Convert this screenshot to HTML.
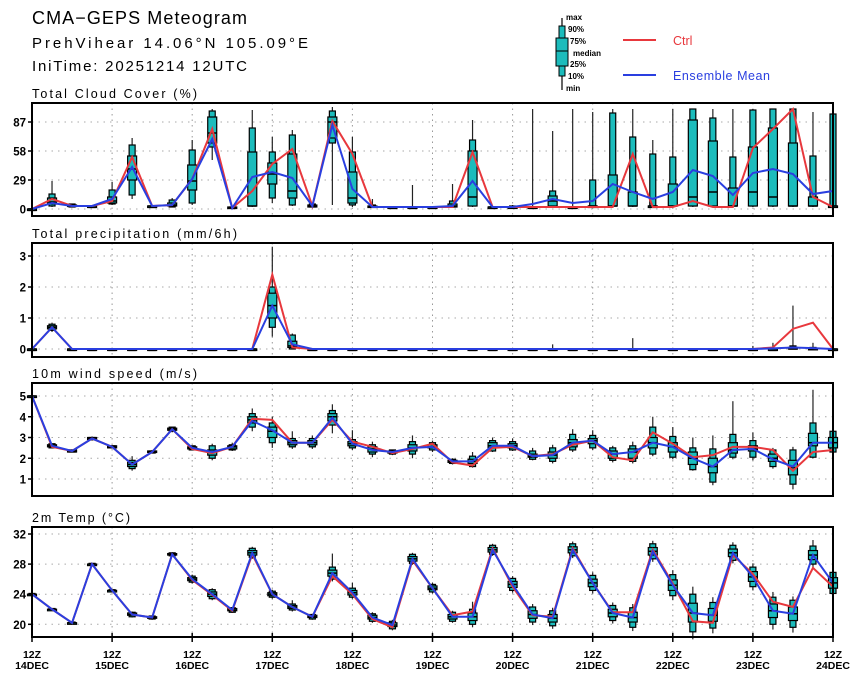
<!DOCTYPE html>
<html><head><meta charset="utf-8"><style>
body{margin:0;background:#fff;width:860px;height:680px;overflow:hidden}
svg{display:block}
text{font-family:"Liberation Sans",sans-serif}
</style></head><body>
<svg id="chart" width="860" height="680" xmlns="http://www.w3.org/2000/svg">
<text x="32" y="24" font-size="18" textLength="215" lengthAdjust="spacing">CMA−GEPS Meteogram</text>
<text x="32" y="48" font-size="15" textLength="276" lengthAdjust="spacing">PrehVihear 14.06°N 105.09°E</text>
<text x="32" y="71" font-size="15" textLength="215" lengthAdjust="spacing">IniTime: 20251214 12UTC</text>
<g>
<line x1="562" y1="18" x2="562" y2="90" stroke="#000" stroke-width="1.2"/>
<rect x="559" y="26" width="6" height="50" fill="#1cbcbc" stroke="#000"/>
<rect x="556" y="38" width="12" height="28" fill="#1cbcbc" stroke="#000"/>
<line x1="556" y1="51" x2="568" y2="51" stroke="#000"/>
<text x="566" y="20" font-size="8" font-weight="bold">max</text>
<text x="568" y="32" font-size="8" font-weight="bold">90%</text>
<text x="570" y="44" font-size="8" font-weight="bold">75%</text>
<text x="573" y="56" font-size="8" font-weight="bold">median</text>
<text x="570" y="67" font-size="8" font-weight="bold">25%</text>
<text x="568" y="79" font-size="8" font-weight="bold">10%</text>
<text x="566" y="91" font-size="8" font-weight="bold">min</text>
</g>
<g>
<line x1="623" y1="40" x2="656" y2="40" stroke="#e8383d" stroke-width="2"/>
<text x="673" y="45" font-size="12.5" fill="#e8383d">Ctrl</text></g>
<g>
<line x1="623" y1="75" x2="656" y2="75" stroke="#2a3fe0" stroke-width="2"/>
<text x="673" y="80" font-size="12.5" fill="#2a3fe0" textLength="97" lengthAdjust="spacing">Ensemble Mean</text></g>
</svg>
<script>
const days=["14DEC","15DEC","16DEC","17DEC","18DEC","19DEC","20DEC","21DEC","22DEC","23DEC","24DEC"];
// Cloud cover
const cloudCtrl=[0,10,3,3,8,52,3,4,30,80,1,18,45,60,3,88,55,2,2,2,2,2,57,2,2,2,2,2,2,2,55,2,2,8,2,2,61,80,100,12,2];
const cloudMean=[0,6,3,3,10,42,3,4,30,70,1,32,37,31,3,84,20,2,2,2,2,3,28,2,2,5,10,6,8,25,17,10,17,39,33,14,36,40,35,15,18];
const cloudMin=[0,2,2,2,4,10,2,2,4,49,1,2,6,3,2,4,2,2,2,1,1,1,2,2,1,1,1,1,1,2,2,2,2,2,2,2,2,2,2,2,2];
const cloudP10=[0,3,2,2,5,14,2,2,6,62,1,3,11,4,2,66,4,2,2,2,2,2,3,2,2,2,3,2,3,3,3,3,3,3,3,3,3,3,3,3,3];
const cloudP25=[0,5,3,3,6,29,3,3,19,66,1,3,25,11,2,71,6,2,2,2,2,2,3,2,2,2,3,2,3,3,3,3,3,3,3,3,3,3,3,3,3];
const cloudMed=[0,7,3,3,8,40,3,4,28,76,1,3,35,18,3,87,11,2,2,2,2,3,12,2,2,2,8,2,3,3,3,3,3,12,17,3,17,12,3,3,3];
const cloudP75=[0,11,4,3,12,53,3,6,44,92,2,57,46,55,4,92,37,3,2,2,2,5,58,2,2,2,13,2,3,34,17,3,25,89,68,21,62,81,66,12,3];
const cloudP90=[0,15,5,3,19,64,3,9,59,98,2,81,57,74,5,98,57,4,2,2,2,8,69,2,3,2,18,2,29,96,72,55,52,100,91,52,99,100,100,53,95];
const cloudMax=[0,28,5,3,27,71,3,11,69,100,2,99,72,79,5,102,72,10,2,24,2,25,89,3,4,100,78,100,97,100,100,69,100,100,100,100,100,100,100,97,95];
// Precipitation
const precCtrl=[0,0.7,0,0,0,0,0,0,0,0,0,0,2.4,0.05,0,0,0,0,0,0,0,0,0,0,0,0,0,0,0,0,0,0,0,0,0,0,0,0.05,0.65,0.85,0];
const precMean=[0,0.7,0,0,0,0,0,0,0,0,0,0,1.4,0.15,0,0,0,0,0,0,0,0,0,0,0,0,0,0,0,0,0,0,0,0,0,0,0,0.02,0.05,0.03,0];
const precMin=[0,0.55,0,0,0,0,0,0,0,0,0,0,0.4,0,0,0,0,0,0,0,0,0,0,0,0,0,0,0,0,0,0,0,0,0,0,0,0,0,0,0,0];
const precP10=[0,0.6,0,0,0,0,0,0,0,0,0,0,0.7,0,0,0,0,0,0,0,0,0,0,0,0,0,0,0,0,0,0,0,0,0,0,0,0,0,0,0,0];
const precP25=[0,0.65,0,0,0,0,0,0,0,0,0,0,1.0,0.05,0,0,0,0,0,0,0,0,0,0,0,0,0,0,0,0,0,0,0,0,0,0,0,0,0,0,0];
const precMed=[0,0.7,0,0,0,0,0,0,0,0,0,0,1.4,0.1,0,0,0,0,0,0,0,0,0,0,0,0,0,0,0,0,0,0,0,0,0,0,0,0,0,0,0];
const precP75=[0,0.75,0,0,0,0,0,0,0,0,0,0,1.8,0.25,0,0,0,0,0,0,0,0,0,0,0,0,0,0,0,0,0,0,0,0,0,0,0,0,0.05,0.02,0];
const precP90=[0,0.8,0,0,0,0,0,0,0,0,0,0,2.0,0.45,0,0,0,0,0,0,0,0,0,0,0,0,0,0,0,0,0,0,0,0,0,0,0,0,0.1,0.05,0];
const precMax=[0,0.85,0,0,0,0,0,0,0,0,0,0,3.3,0.5,0,0,0,0,0,0,0,0,0,0,0,0,0.15,0,0,0,0.35,0,0,0,0,0,0.1,0.2,1.4,0.2,0];
// Wind speed
const windCtrl=[5.0,2.55,2.35,2.95,2.55,1.7,2.3,3.4,2.45,2.25,2.55,3.9,3.85,2.75,2.75,3.85,2.8,2.55,2.25,2.45,2.7,1.8,1.65,2.5,2.55,2.1,2.2,2.65,2.85,2.05,1.9,3.25,2.7,2.05,2.15,2.55,2.55,2.4,1.4,2.3,2.4];
const windMean=[5.0,2.6,2.35,2.95,2.55,1.7,2.3,3.4,2.5,2.3,2.55,3.8,3.35,2.75,2.75,3.95,2.7,2.4,2.3,2.5,2.55,1.85,1.85,2.6,2.6,2.1,2.15,2.75,2.85,2.2,2.3,2.75,2.55,2.0,1.6,2.4,2.45,1.95,1.6,2.75,2.75];
const windMin=[5,2.5,2.3,2.85,2.5,1.4,2.25,3.25,2.4,1.9,2.35,3.3,2.5,2.45,2.45,3.2,2.4,2.05,2.15,2.0,2.3,1.7,1.55,2.3,2.35,1.9,1.75,2.3,2.4,1.8,1.75,2.1,1.95,1.4,0.7,1.95,1.9,1.5,0.5,2.0,2.2];
const windP10=[5,2.5,2.3,2.9,2.5,1.5,2.25,3.3,2.4,2.0,2.4,3.5,2.75,2.55,2.55,3.6,2.5,2.2,2.2,2.2,2.4,1.75,1.6,2.35,2.4,1.95,1.85,2.4,2.5,1.9,1.85,2.2,2.05,1.45,0.85,2.05,2.05,1.6,0.75,2.05,2.3];
const windP25=[5,2.55,2.3,2.9,2.5,1.6,2.3,3.35,2.45,2.15,2.45,3.7,3.0,2.65,2.65,3.8,2.6,2.3,2.25,2.35,2.5,1.8,1.75,2.5,2.5,2.05,2.0,2.55,2.7,2.0,2.0,2.5,2.3,1.7,1.3,2.25,2.35,1.85,1.2,2.6,2.5];
const windMed=[5,2.6,2.35,2.95,2.55,1.7,2.3,3.4,2.5,2.3,2.55,3.85,3.3,2.75,2.75,4.0,2.7,2.45,2.3,2.5,2.55,1.85,1.85,2.6,2.6,2.1,2.15,2.75,2.85,2.2,2.3,2.75,2.55,2.0,1.6,2.4,2.45,2.0,1.55,2.75,2.75];
const windP75=[5,2.65,2.4,3.0,2.6,1.8,2.35,3.45,2.55,2.4,2.6,4.0,3.5,2.85,2.85,4.15,2.8,2.55,2.35,2.65,2.65,1.9,1.95,2.75,2.7,2.2,2.3,2.9,2.95,2.35,2.45,3.0,2.75,2.3,2.0,2.75,2.6,2.2,1.9,3.2,3.0];
const windP90=[5,2.7,2.4,3.0,2.6,1.9,2.35,3.5,2.6,2.6,2.65,4.15,3.7,2.95,2.95,4.3,2.9,2.65,2.4,2.8,2.75,1.95,2.1,2.85,2.8,2.35,2.5,3.15,3.1,2.5,2.6,3.5,3.05,2.5,2.45,3.15,2.85,2.4,2.4,3.7,3.3];
const windMax=[5,2.7,2.4,3.05,2.6,2.1,2.4,3.5,2.6,2.7,2.75,4.4,4.0,3.3,3.1,4.6,3.35,2.8,2.4,3.1,2.85,2.0,2.3,3.0,2.95,2.5,2.65,3.4,3.35,2.6,2.8,4.0,3.5,3.0,3.1,4.75,3.25,2.5,2.55,5.3,3.35];
// 2m temperature
const tempCtrl=[24.0,22.0,20.2,28.0,24.5,21.3,20.9,29.3,25.9,23.9,21.8,29.3,24.0,22.3,21.0,26.4,24.0,20.7,19.6,28.5,24.8,21.2,21.7,30.1,25.0,21.2,21.0,30.1,25.5,21.6,21.6,29.9,25.4,20.4,20.2,29.2,26.7,23.0,22.3,27.5,25.0];
const tempMean=[24.0,22.0,20.2,28.0,24.5,21.3,20.9,29.3,26.0,24.0,21.9,29.5,24.0,22.3,21.0,26.8,24.2,20.9,19.9,28.7,24.8,21.0,21.0,29.9,25.3,21.3,20.8,29.9,25.5,21.5,20.9,29.7,25.2,21.5,21.2,29.5,26.3,21.8,21.4,29.2,25.5];
const tempMin=[23.9,21.9,20.1,27.9,24.4,20.9,20.6,29.0,25.4,23.2,21.5,28.7,23.4,21.7,20.6,25.7,23.4,20.2,19.2,27.9,24.1,20.2,19.6,29.1,24.2,19.9,19.4,28.8,24.1,20.1,19.1,28.3,23.2,18.0,18.8,28.1,24.5,19.3,18.9,27.5,23.5];
const tempP10=[23.9,21.9,20.1,27.9,24.4,21.0,20.7,29.1,25.6,23.4,21.6,28.9,23.6,21.9,20.7,26.0,23.6,20.4,19.4,28.1,24.3,20.4,20.0,29.3,24.5,20.3,19.8,29.1,24.5,20.5,19.6,28.7,23.8,19.0,19.5,28.5,25.0,20.0,19.6,28.0,24.1];
const tempP25=[24.0,22.0,20.2,28.0,24.5,21.2,20.8,29.2,25.8,23.7,21.8,29.2,23.8,22.1,20.9,26.4,23.9,20.7,19.7,28.4,24.6,20.7,20.5,29.6,24.9,20.8,20.3,29.5,25.0,21.0,20.3,29.2,24.5,20.3,20.4,29.0,25.7,20.9,20.5,28.6,24.8];
const tempMed=[24.0,22.0,20.2,28.0,24.5,21.3,20.9,29.3,26.0,24.0,21.9,29.5,24.0,22.3,21.0,26.8,24.2,20.9,19.9,28.7,24.8,21.0,21.0,29.9,25.3,21.3,20.8,29.9,25.5,21.5,20.9,29.7,25.2,21.5,21.2,29.5,26.3,21.8,21.4,29.2,25.5];
const tempP75=[24.0,22.0,20.2,28.0,24.5,21.5,21.0,29.4,26.2,24.3,22.1,29.8,24.2,22.5,21.2,27.2,24.5,21.2,20.2,29.0,25.1,21.3,21.5,30.2,25.7,21.8,21.3,30.3,26.0,22.0,21.6,30.2,25.9,22.8,22.1,30.0,27.0,22.7,22.3,29.8,26.2];
const tempP90=[24.1,22.1,20.3,28.1,24.6,21.6,21.1,29.5,26.4,24.6,22.2,30.1,24.4,22.7,21.3,27.6,24.8,21.4,20.4,29.3,25.3,21.6,22.0,30.5,26.1,22.3,21.8,30.7,26.5,22.5,22.2,30.7,26.6,24.0,22.9,30.5,27.6,23.6,23.2,30.4,26.9];
const tempMax=[24.1,22.1,20.3,28.1,24.6,21.7,21.2,29.6,26.6,24.8,22.3,30.3,24.6,23.2,21.4,29.4,25.5,21.6,20.6,29.5,25.5,21.8,23.0,30.7,26.4,22.7,22.2,31.0,26.9,22.9,22.7,31.1,27.2,25.0,23.6,30.9,28.1,24.3,23.7,31.2,27.5];
const cloudTicks=[0,29,58,87], precTicks=[0,1,2,3], windTicks=[1,2,3,4,5], tempTicks=[20,24,28,32];

const NS="http://www.w3.org/2000/svg";
const svg=document.getElementById('chart');
const X0=32,X1=833,N=41;
function xs(i){return X0+(X1-X0)*i/(N-1);}
function mk(tag,attrs,parent){const e=document.createElementNS(NS,tag);for(const k in attrs)e.setAttribute(k,attrs[k]);(parent||svg).appendChild(e);return e;}
function panel(name,title,tlen,top,bot,v0,y0,v1,y1,ticks,ctrl,mean,q){
  const ys=v=>y0+(v-v0)*(y1-y0)/(v1-v0);
  const g=mk('g',{});
  
  
  const t=mk('text',{x:32,y:top-5,'font-size':12.5,textLength:tlen,lengthAdjust:'spacing'},g);t.textContent=title;
  
  
  for(let d=0;d<=10;d++){const x=xs(d*4);if(d>0&&d<10)mk('line',{x1:x,y1:top,x2:x,y2:bot,stroke:'#999','stroke-dasharray':'1.5,4','stroke-width':1},g);}
  ticks.forEach(v=>{const y=ys(v);
    mk('line',{x1:X0,y1:y,x2:X1,y2:y,stroke:'#aaa','stroke-dasharray':'1.5,5','stroke-width':1},g);
    mk('line',{x1:X0-4,y1:y,x2:X0,y2:y,stroke:'#000','stroke-width':1.5},g);
    const tl=mk('text',{x:X0-6,y:y+4.5,'font-size':11.5,'font-weight':'bold','text-anchor':'end'},g);tl.textContent=v;
    
    
  });
  const [mn,p10,p25,md,p75,p90,mx]=q;
  for(let i=0;i<N;i++){
    const x=xs(i);
    const b=mk('g',{},g);
    
    
    mk('line',{x1:x,y1:ys(mn[i]),x2:x,y2:ys(mx[i]),stroke:'#222','stroke-width':1.2},b);
    const h1=Math.max(ys(p10[i])-ys(p90[i]),1.5);
    mk('rect',{x:x-3,y:ys(p90[i]),width:6,height:h1,fill:'#1cbcbc',stroke:'#000','stroke-width':1.2},b);
    const h2=Math.max(ys(p25[i])-ys(p75[i]),1.5);
    mk('rect',{x:x-4.5,y:ys(p75[i]),width:9,height:h2,fill:'#1cbcbc',stroke:'#000','stroke-width':1.2},b);
    mk('line',{x1:x-4.5,y1:ys(md[i]),x2:x+4.5,y2:ys(md[i]),stroke:'#000','stroke-width':1.5},b);
  }
  const pc=mk('polyline',{points:ctrl.map((v,i)=>xs(i)+','+ys(v)).join(' '),fill:'none',stroke:'#e8383d','stroke-width':2},g);
  
  
  const pm=mk('polyline',{points:mean.map((v,i)=>xs(i)+','+ys(v)).join(' '),fill:'none',stroke:'#2a3fe0','stroke-width':2},g);
  
  
  mk('rect',{x:X0,y:top,width:X1-X0,height:bot-top,fill:'none',stroke:'#000','stroke-width':2},g);
}
panel('cloud','Total Cloud Cover (%)',165,103,216,0,209,87,122,cloudTicks,cloudCtrl,cloudMean,[cloudMin,cloudP10,cloudP25,cloudMed,cloudP75,cloudP90,cloudMax]);
panel('precip','Total precipitation (mm/6h)',205,243,357,0,349,3,256,precTicks,precCtrl,precMean,[precMin,precP10,precP25,precMed,precP75,precP90,precMax]);
panel('wind','10m wind speed (m/s)',165,383,496,1,479,5,396,windTicks,windCtrl,windMean,[windMin,windP10,windP25,windMed,windP75,windP90,windMax]);
panel('temp','2m Temp (°C)',98,527,637,20,624.3,32,534,tempTicks,tempCtrl,tempMean,[tempMin,tempP10,tempP25,tempMed,tempP75,tempP90,tempMax]);
days.forEach((d,k)=>{const x=xs(k*4);
  mk('line',{x1:x,y1:633,x2:x,y2:642,stroke:'#000','stroke-width':1.5});
  const a=mk('text',{x:x,y:658,'font-size':10.5,'font-weight':'bold','text-anchor':'middle'});a.textContent='12Z';
  
  
  const b=mk('text',{x:x,y:669,'font-size':10.5,'font-weight':'bold','text-anchor':'middle'});b.textContent=d;
  
  
});
</script>
</body></html>
